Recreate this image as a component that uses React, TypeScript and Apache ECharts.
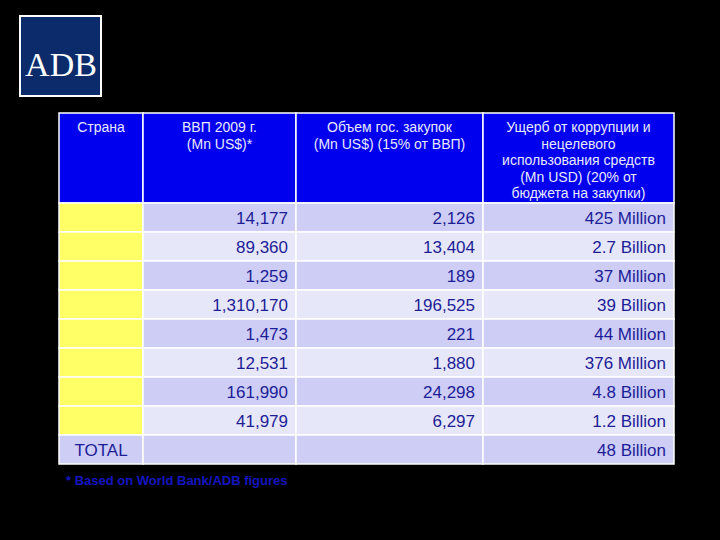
import React, { useEffect, useRef } from "react";
import * as echarts from "echarts";

// ---- data ----
const headers = [
  "Страна",
  "ВВП 2009 г.\n(Mn US$)*",
  "Объем гос. закупок\n(Mn US$) (15% от ВВП)",
  "Ущерб от коррупции и\nнецелевого\nиспользования средств\n(Mn USD) (20% от\nбюджета на закупки)",
];
const countries = ["", "", "", "", "", "", "", ""];
const gdp = [14177, 89360, 1259, 1310170, 1473, 12531, 161990, 41979];
const procurement = [2126, 13404, 189, 196525, 221, 1880, 24298, 6297];
const losses = [
  "425 Million",
  "2.7 Billion",
  "37 Million",
  "39 Billion",
  "44 Million",
  "376 Million",
  "4.8 Billion",
  "1.2 Billion",
];
const totalLabel = "TOTAL";
const totalLoss = "48 Billion";
const footnote = "* Based on World Bank/ADB figures";

// ---- layout (axis units) ----
const colEdges = [0, 84, 237, 424, 615];
const headerH = 90;
const rowH = 29;

const fmt = (n: number) => n.toLocaleString("en-US");

type Cell = { col: number; row: number; text: string; kind: string };

function buildCells(): Cell[] {
  const cells: Cell[] = [];
  headers.forEach((h, c) => cells.push({ col: c, row: 0, text: h, kind: "header" }));
  countries.forEach((name, i) => {
    const r = i + 1;
    cells.push({ col: 0, row: r, text: name, kind: "country" });
    cells.push({ col: 1, row: r, text: fmt(gdp[i]), kind: "num" });
    cells.push({ col: 2, row: r, text: fmt(procurement[i]), kind: "num" });
    cells.push({ col: 3, row: r, text: losses[i], kind: "num" });
  });
  const tr = countries.length + 1;
  cells.push({ col: 0, row: tr, text: totalLabel, kind: "total" });
  cells.push({ col: 1, row: tr, text: "", kind: "num" });
  cells.push({ col: 2, row: tr, text: "", kind: "num" });
  cells.push({ col: 3, row: tr, text: totalLoss, kind: "num" });
  return cells;
}

const rowTop = (r: number) => (r === 0 ? 0 : headerH + (r - 1) * rowH);
const rowBottom = (r: number) => (r === 0 ? headerH : headerH + r * rowH);

export default function App() {
  const ref = useRef<HTMLDivElement>(null);
  useEffect(() => {
    document.body.style.margin = "0";
    document.body.style.background = "#000";
    const chart = echarts.init(ref.current!, null, { renderer: "svg" });
    const cells = buildCells();
    const nRows = countries.length + 2;
    const totalH = rowBottom(nRows - 1);
    const font = "'Liberation Sans', Arial, sans-serif";

    chart.setOption({
      animation: false,
      backgroundColor: "#000000",
      grid: { left: 59, top: 113, width: 615, height: totalH },
      xAxis: { type: "value", min: 0, max: 615, show: false },
      yAxis: { type: "value", min: 0, max: totalH, inverse: true, show: false },
      series: [
        {
          type: "custom",
          coordinateSystem: "cartesian2d",
          data: cells.map((c) => [c.col, c.row]),
          renderItem: (params: any, api: any) => {
            const cell = cells[params.dataIndex];
            const p0 = api.coord([colEdges[cell.col], rowTop(cell.row)]);
            const p1 = api.coord([colEdges[cell.col + 1], rowBottom(cell.row)]);
            const x = p0[0];
            const y = p0[1];
            const w = p1[0] - p0[0];
            const h = p1[1] - p0[1];
            let fill: string;
            if (cell.kind === "header") fill = "#0000ee";
            else if (cell.kind === "country") fill = "#ffff66";
            else fill = cell.row % 2 === 1 ? "#cdcdf6" : "#e7e7fa";
            const children: any[] = [
              {
                type: "rect",
                shape: { x, y, width: w, height: h },
                style: { fill, stroke: "#ffffff", lineWidth: 1.5 },
              },
            ];
            if (cell.text) {
              if (cell.kind === "header") {
                children.push({
                  type: "text",
                  style: {
                    x: x + w / 2,
                    y: y + 6,
                    text: cell.text,
                    fill: "#e8e8ff",
                    font: `14px ${font}`,
                    align: "center",
                    verticalAlign: "top",
                    lineHeight: 16.5,
                  },
                });
              } else if (cell.kind === "total") {
                children.push({
                  type: "text",
                  style: {
                    x: x + w / 2,
                    y: y + h / 2 + 1,
                    text: cell.text,
                    fill: "#1d1d96",
                    font: `17px ${font}`,
                    align: "center",
                    verticalAlign: "middle",
                  },
                });
              } else {
                children.push({
                  type: "text",
                  style: {
                    x: x + w - 8,
                    y: y + h / 2 + 1,
                    text: cell.text,
                    fill: "#1d1d96",
                    font: `17px ${font}`,
                    align: "right",
                    verticalAlign: "middle",
                  },
                });
              }
            }
            return { type: "group", children };
          },
        },
      ],
      graphic: [
        {
          type: "rect",
          shape: { x: 20, y: 16, width: 81, height: 80 },
          style: { fill: "#0b2b6b", stroke: "#ffffff", lineWidth: 2 },
        },
        {
          type: "text",
          style: {
            x: 61,
            y: 64,
            text: "ADB",
            fill: "#ffffff",
            font: "34px 'Liberation Serif', 'Times New Roman', serif",
            align: "center",
            verticalAlign: "middle",
          },
        },
        {
          type: "text",
          style: {
            x: 66,
            y: 480,
            text: footnote,
            fill: "#1515c0",
            font: `bold 13px ${font}`,
            align: "left",
            verticalAlign: "middle",
          },
        },
      ],
    });
    return () => chart.dispose();
  }, []);
  return <div ref={ref} style={{ width: 720, height: 540 }} />;
}
